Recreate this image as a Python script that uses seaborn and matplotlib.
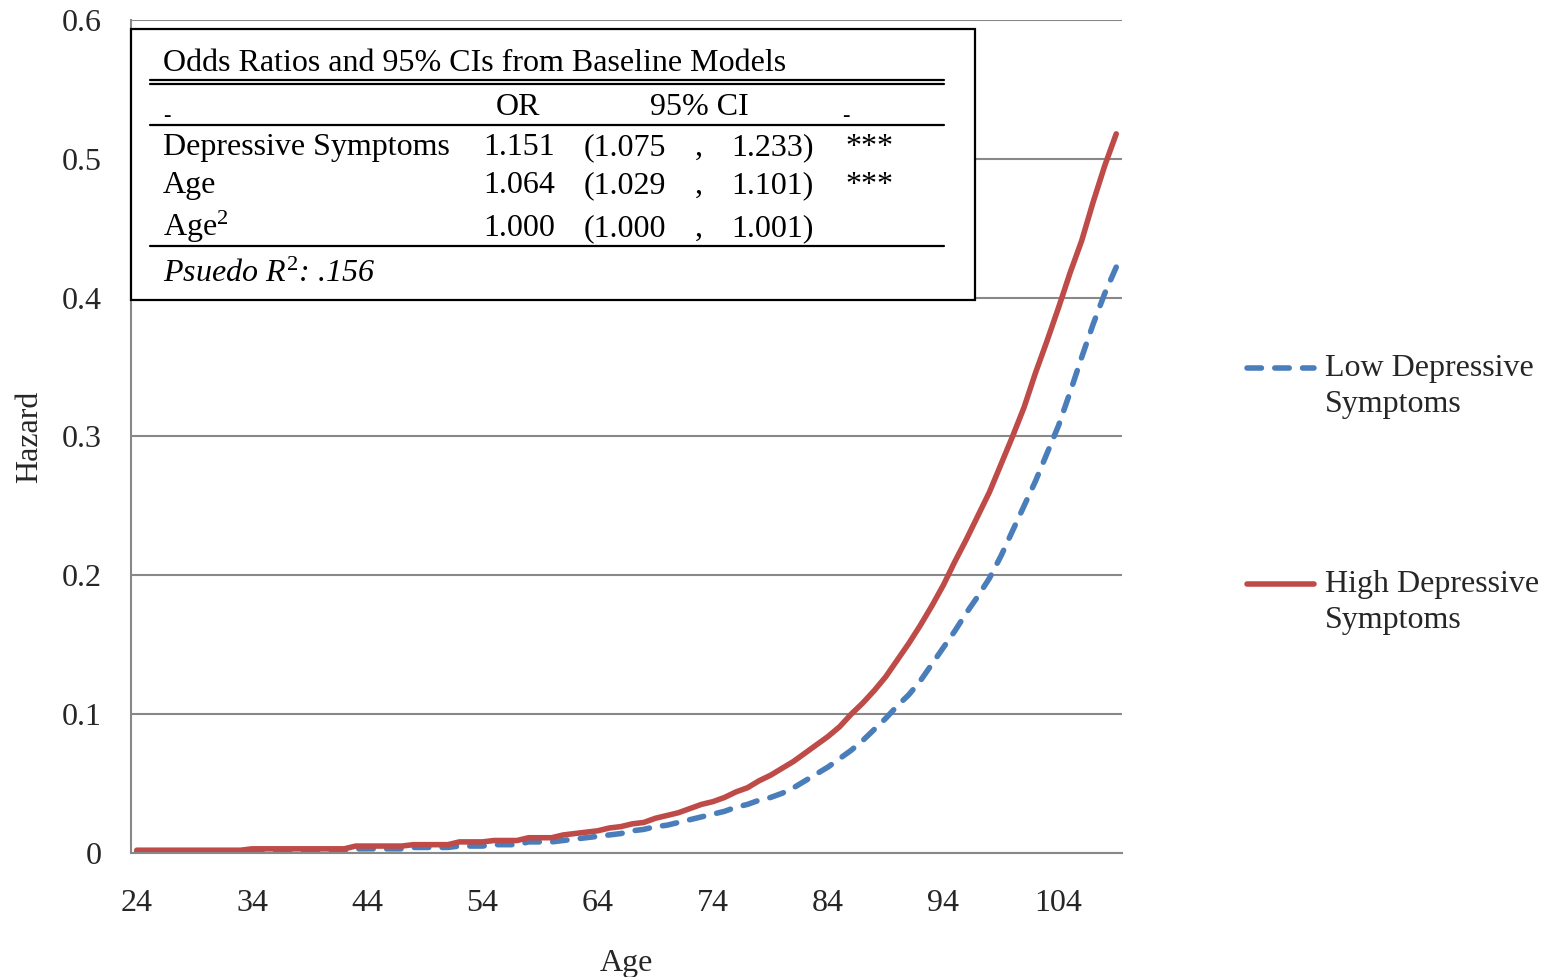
import numpy as np
import pandas as pd
import matplotlib
matplotlib.use("Agg")
import matplotlib.pyplot as plt
import seaborn as sns

# ---------------- data ----------------
ages = list(range(24, 110))

high_dep = [0.002, 0.002, 0.002, 0.002, 0.002, 0.002, 0.002, 0.002, 0.002, 0.002,   # 24-33
            0.003, 0.003, 0.003, 0.003, 0.003, 0.003, 0.003, 0.003, 0.003,          # 34-42
            0.005, 0.005, 0.005, 0.005, 0.005,                                       # 43-47
            0.006, 0.006, 0.006, 0.006,                                              # 48-51
            0.008, 0.008, 0.008,                                                     # 52-54
            0.009, 0.009, 0.009,                                                     # 55-57
            0.011, 0.011, 0.011,                                                     # 58-60
            0.013, 0.014, 0.015, 0.016, 0.018, 0.019, 0.021, 0.022, 0.025, 0.027,    # 61-70
            0.029, 0.032, 0.035, 0.037, 0.040, 0.044, 0.047, 0.052, 0.056, 0.061,    # 71-80
            0.066, 0.072, 0.078, 0.084, 0.091, 0.100, 0.108, 0.117, 0.127, 0.139,    # 81-90
            0.151, 0.164, 0.178, 0.193, 0.210, 0.226, 0.243, 0.260, 0.280, 0.300,    # 91-100
            0.321, 0.346, 0.369, 0.393, 0.418, 0.441, 0.469, 0.495, 0.518]           # 101-109

low_dep = [0.001, 0.001, 0.001, 0.001, 0.001, 0.001, 0.001, 0.001, 0.001, 0.001,     # 24-33
           0.002, 0.002, 0.002, 0.002, 0.002, 0.002, 0.002, 0.002, 0.002,           # 34-42
           0.003, 0.003, 0.003, 0.003, 0.003,                                        # 43-47
           0.004, 0.004, 0.004, 0.004,                                               # 48-51
           0.005, 0.005, 0.005,                                                      # 52-54
           0.006, 0.006, 0.006,                                                      # 55-57
           0.008, 0.008, 0.008,                                                      # 58-60
           0.009, 0.010, 0.011, 0.012, 0.013, 0.014, 0.016, 0.017, 0.019, 0.020,     # 61-70
           0.022, 0.024, 0.026, 0.028, 0.030, 0.033, 0.035, 0.038, 0.040, 0.043,     # 71-80
           0.047, 0.052, 0.057, 0.062, 0.068, 0.074, 0.081, 0.089, 0.097, 0.106,     # 81-90
           0.114, 0.124, 0.136, 0.148, 0.160, 0.173, 0.185, 0.198, 0.214, 0.232,     # 91-100
           0.250, 0.268, 0.288, 0.308, 0.332, 0.357, 0.381, 0.403, 0.422]            # 101-109

series_names = ["Low Depressive\nSymptoms", "High Depressive\nSymptoms"]
y_ticks = [0, 0.1, 0.2, 0.3, 0.4, 0.5, 0.6]
y_tick_labels = ["0", "0.1", "0.2", "0.3", "0.4", "0.5", "0.6"]
x_label_ages = [24, 34, 44, 54, 64, 74, 84, 94, 104]

table_title = "Odds Ratios and 95% CIs from Baseline Models"
row_names = ["Depressive Symptoms", "Age", "Age$^2$"]
row_or = ["1.151", "1.064", "1.000"]
row_lo = ["(1.075", "(1.029", "(1.000"]
row_hi = ["1.233)", "1.101)", "1.001)"]
row_sig = ["***", "***", ""]
pseudo_r2 = "Psuedo $R^2$: .156"

# ---------------- style ----------------
sns.set_theme(style="white")
plt.rcParams["font.family"] = ["Liberation Serif", "DejaVu Serif"]
plt.rcParams["mathtext.fontset"] = "custom"
plt.rcParams["mathtext.rm"] = "Liberation Serif"
plt.rcParams["mathtext.it"] = "Liberation Serif:italic"
plt.rcParams["mathtext.bf"] = "Liberation Serif:bold"

W, H = 1545, 977
fig = plt.figure(figsize=(W / 100, H / 100), dpi=100)
L, R, T, B = 131, 1122, 20, 853
ax = fig.add_axes([L / W, 1 - B / H, (R - L) / W, (B - T) / H])

df = pd.DataFrame({
    "Age": ages * 2,
    "Hazard": low_dep + high_dep,
    "Group": [series_names[0]] * len(ages) + [series_names[1]] * len(ages),
})

blue = "#4A7EBB"
red = "#BE4B48"
lw = 4.0
afs = 23

sns.lineplot(data=df[df.Group == series_names[0]], x="Age", y="Hazard", ax=ax,
             color=blue, linewidth=lw, label=series_names[0])
sns.lineplot(data=df[df.Group == series_names[1]], x="Age", y="Hazard", ax=ax,
             color=red, linewidth=lw, label=series_names[1])
lines = ax.get_lines()
lines[0].set_dashes((2.6, 2.4))
lines[0].set_dash_capstyle("round")
lines[0].set_solid_capstyle("round")
lines[1].set_solid_capstyle("round")
lines[1].set_solid_joinstyle("round")

gray = "#888888"
ax.set_xlim(ages[0] - 0.5, ages[-1] + 0.5)
ax.set_ylim(0, 0.6)
ax.set_yticks(y_ticks)
ax.set_yticklabels(y_tick_labels)
ax.yaxis.grid(True, color=gray, linewidth=1.5)
ax.xaxis.grid(False)
ax.set_xticks(x_label_ages)
ax.set_xticklabels([str(a) for a in x_label_ages])
ax.set_xticks(np.arange(ages[0] - 0.5, ages[-1] + 1.0, 5), minor=True)
ax.tick_params(axis="x", which="major", length=0, pad=26, labelsize=afs)
ax.tick_params(axis="x", which="minor", length=7, width=1.5, color=gray, direction="out")
ax.tick_params(axis="y", which="major", length=7, width=1.5, color=gray, direction="out",
               pad=14, labelsize=afs)
for s in ["top", "right"]:
    ax.spines[s].set_visible(False)
for s in ["left", "bottom"]:
    ax.spines[s].set_color(gray)
    ax.spines[s].set_linewidth(1.5)
ax.set_xlabel("Age", fontsize=afs, labelpad=22)
ax.set_ylabel("Hazard", fontsize=afs, labelpad=13)
ax.set_facecolor("white")

# legend
handles, labels = ax.get_legend_handles_labels()
leg = ax.legend(handles, labels, loc="upper left",
                bbox_to_anchor=(1247 / W, 1 - 354 / H), bbox_transform=fig.transFigure,
                frameon=False, fontsize=afs, handlelength=2.1, handletextpad=0.35,
                labelspacing=4.75, borderpad=0, borderaxespad=0)
for t in leg.get_texts():
    t.set_linespacing(1.3)
for h in leg.legend_handles:
    yd = h.get_ydata()
    h.set_ydata([v + 13 for v in yd])

# ---------------- table box ----------------
def fx(x):
    return x / W

def fy(y):
    return 1 - y / H

box = plt.Rectangle((fx(131), fy(300)), fx(975) - fx(131), fy(29) - fy(300),
                    transform=fig.transFigure, fill=True, facecolor="white",
                    edgecolor="black", linewidth=1.6, zorder=5)
fig.add_artist(box)

def hline(y, lwd=1.6):
    fig.add_artist(plt.Line2D([fx(150), fx(944)], [fy(y), fy(y)],
                              transform=fig.transFigure, color="black",
                              linewidth=lwd, zorder=6))

hline(80)
hline(84)
hline(125)
hline(246)

fs = 23
kw = dict(fontsize=fs, color="black", zorder=7, va="baseline")
fig.text(fx(163), fy(71), table_title, ha="left", **kw)
fig.text(fx(518), fy(115), "OR", ha="center", **kw)
fig.text(fx(699), fy(115), "95% CI", ha="center", **kw)
fig.text(fx(167), fy(121), "-", ha="center", fontsize=16, color="black", zorder=7, va="baseline")
fig.text(fx(846), fy(121), "-", ha="center", fontsize=16, color="black", zorder=7, va="baseline")

row_y = [155, 193, 236]
for i in range(3):
    y = row_y[i]
    fig.text(fx(163), fy(y), row_names[i], ha="left", **kw)
    fig.text(fx(519), fy(y), row_or[i], ha="center", **kw)
    fig.text(fx(584), fy(y), row_lo[i], ha="left", **kw)
    fig.text(fx(699), fy(y), ",", ha="center", **kw)
    fig.text(fx(814), fy(y), row_hi[i], ha="right", **kw)
    if row_sig[i]:
        fig.text(fx(845), fy(y), row_sig[i], ha="left", **kw)

fig.text(fx(163), fy(282), pseudo_r2, ha="left", style="italic", **kw)

fig.savefig("out.png", dpi=100, facecolor="white")
